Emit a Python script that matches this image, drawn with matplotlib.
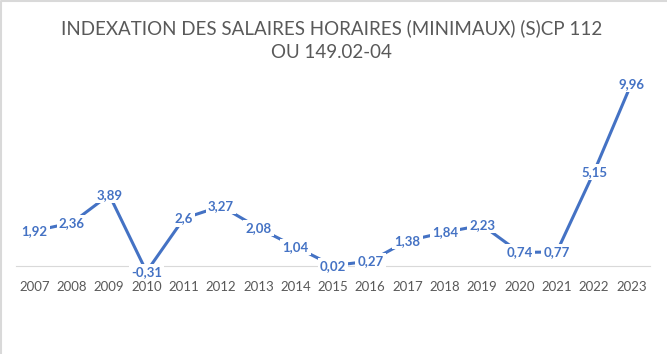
import matplotlib
matplotlib.use("Agg")
import matplotlib.pyplot as plt
from matplotlib.lines import Line2D

# Data
years = ["2007", "2008", "2009", "2010", "2011", "2012", "2013", "2014", "2015",
         "2016", "2017", "2018", "2019", "2020", "2021", "2022", "2023"]
values = [1.92, 2.36, 3.89, -0.31, 2.6, 3.27, 2.08, 1.04, 0.02,
          0.27, 1.38, 1.84, 2.23, 0.74, 0.77, 5.15, 9.96]

title = "INDEXATION DES SALAIRES HORAIRES (MINIMAUX) (S)CP 112\nOU 149.02-04"

blue = "#4472C4"
grey = "#595959"

plt.rcParams["font.family"] = ["Lato", "DejaVu Sans"]

W, H = 667, 354
fig = plt.figure(figsize=(W / 100, H / 100), dpi=100)

# axes placed in pixel terms: left 16, right 650, top 60, bottom 300
ax = fig.add_axes([16 / W, (H - 300) / H, 634 / W, 240 / H])

x = list(range(len(years)))
ax.plot(x, values, color=blue, lw=2.2, solid_capstyle="round", zorder=2)

for xi, v in zip(x, values):
    ax.text(xi, v, str(v).replace(".", ","), ha="center", va="center",
            color=blue, fontsize=9.5, fontweight="bold", zorder=3,
            bbox=dict(facecolor="white", edgecolor="none", pad=1.5))

ax.set_xlim(-0.5, len(years) - 0.5)
ax.set_ylim(-(300 - 266) / 18.3, (266 - 60) / 18.3)

ax.spines["bottom"].set_position(("data", 0))
ax.spines["bottom"].set_color("#d9d9d9")
ax.spines["bottom"].set_zorder(1)
for s in ["top", "left", "right"]:
    ax.spines[s].set_visible(False)
ax.set_yticks([])
ax.set_xticks(x)
ax.set_xticklabels(years)
ax.tick_params(axis="x", length=0, pad=11, labelsize=9.5, labelcolor=grey)

fig.text(0.497, 1 - 40 / H, title, ha="center", va="center", color=grey,
         fontsize=13.5, linespacing=1.5)

# thin chart border (top and left visible)
fig.lines.append(Line2D([0.002, 0.002, 1], [0, 0.997, 0.997],
                        transform=fig.transFigure, color="#d9d9d9", lw=1.5))

fig.savefig("out.png", dpi=100)
